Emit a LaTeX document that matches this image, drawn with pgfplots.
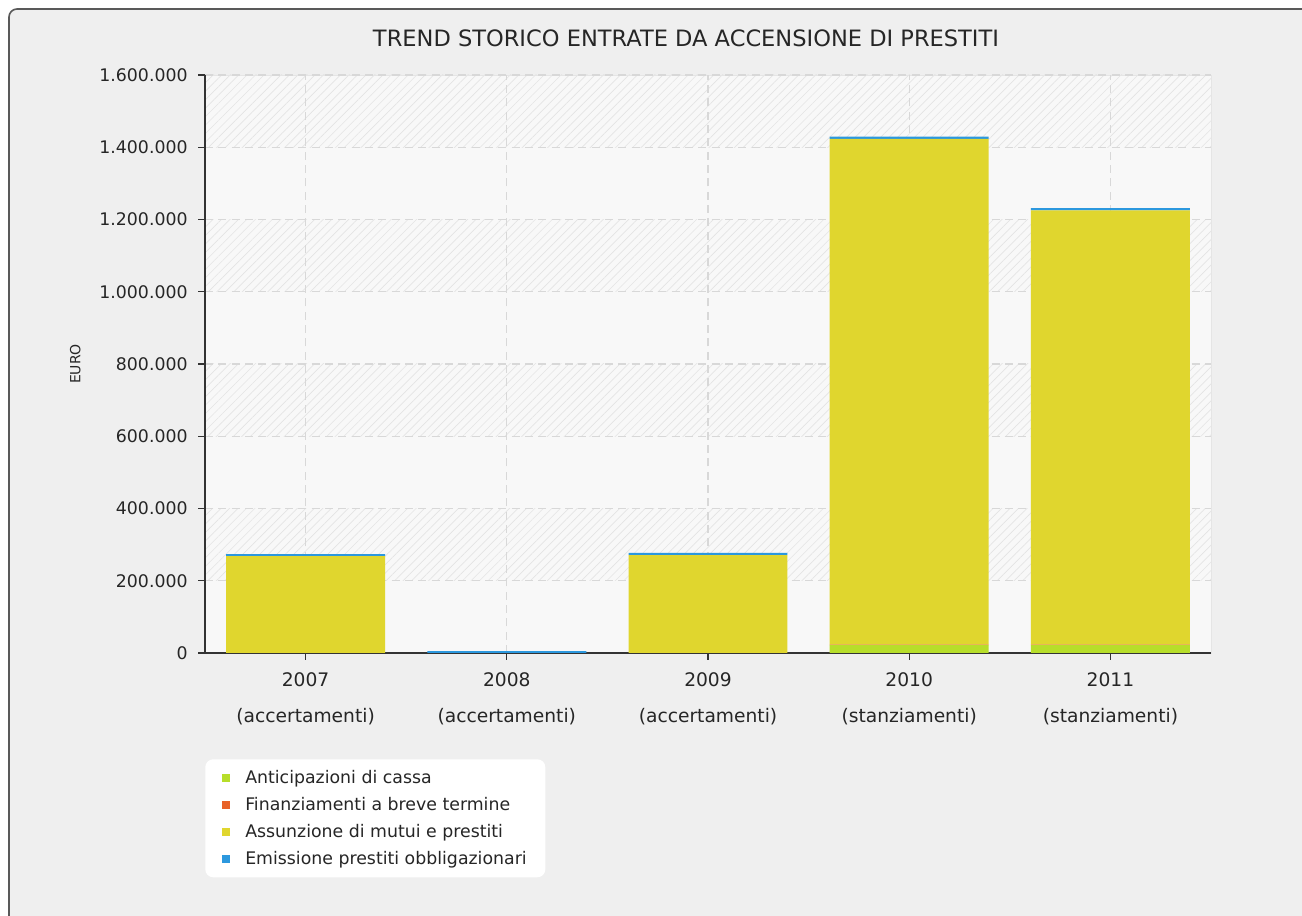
\documentclass[border=0pt]{standalone}
\usepackage{pgfplots}
\pgfplotsset{compat=1.18}
\usepackage{fontspec}
\setmainfont{DejaVu Sans}
\usetikzlibrary{patterns.meta,calc}
\definecolor{cgreen}{RGB}{183,222,42}
\definecolor{corange}{RGB}{232,98,40}
\definecolor{cyellow}{RGB}{224,214,46}
\definecolor{cblue}{RGB}{44,152,222}
\definecolor{bgouter}{RGB}{239,239,239}
\definecolor{plotbg}{RGB}{248,248,248}
\definecolor{hatchc}{RGB}{228,228,228}
\definecolor{gridc}{RGB}{216,216,216}
\begin{document}
\begin{tikzpicture}
\begin{scope}[x=0.75pt,y=0.75pt]
\path[use as bounding box] (0,0) rectangle (1302,916);
\clip (0,0) rectangle (1302,916);
\fill[white] (0,0) rectangle (1302,916);
\filldraw[fill=bgouter, draw=black!65, line width=1.2pt, rounded corners=6pt] (9,-20) rectangle (1330,907);
\node[font=\fontsize{16.9}{19}\selectfont, text=black!85] at (686,878) {TREND STORICO ENTRATE DA ACCENSIONE DI PRESTITI};
\end{scope}
\begin{axis}[
  at={(153.75pt,197.25pt)}, anchor=south west, scale only axis,
  width=754.5pt, height=433.5pt,
  xmin=-0.5, xmax=4.5, ymin=0, ymax=1600000,
  ybar stacked, bar width=0.79,
  axis background/.style={fill=plotbg, draw=black!10,
    path picture={
      \foreach \a in {1,3,5,7} {
        \pgfmathsetmacro{\lo}{\a/8}
        \pgfmathsetmacro{\hi}{(\a+1)/8}
        \fill[pattern={Lines[angle=45,distance=4.5pt,line width=0.5pt]}, pattern color=hatchc]
          ($(path picture bounding box.south west)!\lo!(path picture bounding box.north west)$)
          rectangle
          ($(path picture bounding box.south east)!\hi!(path picture bounding box.north east)$);
      }
    }},
  xtick={0,1,2,3,4},
  xticklabels={2007\\(accertamenti),2008\\(accertamenti),2009\\(accertamenti),2010\\(stanziamenti),2011\\(stanziamenti)},
  ytick={0,200000,400000,600000,800000,1000000,1200000,1400000,1600000},
  scaled y ticks=false,
  yticklabel style={font=\fontsize{13}{15}\selectfont, text=black!85, xshift=-4.5pt, /pgf/number format/fixed, /pgf/number format/1000 sep={.}, /pgf/number format/assume math mode=true},
  xticklabel style={align=center, font=\fontsize{14}{26.5}\selectfont, text=black!85, yshift=-6.5pt},
  grid=major,
  major grid style={gridc, dash pattern=on 6pt off 4pt, line width=0.8pt},
  axis x line*=bottom, axis y line*=left,
  axis line style={black!80, line width=1pt},
  tick style={black!80, line width=1pt},
  tick align=outside, major tick length=5pt,
  ylabel={EURO},
  ylabel style={at={(axis description cs:-0.129,0.5)}, anchor=center, font=\fontsize{10.5}{12}\selectfont, text=black!85},
  legend style={at={(0,-0.1834)}, anchor=north west, draw=none, fill=white, rounded corners=6pt,
    font=\fontsize{13}{15}\selectfont, row sep=5pt, inner xsep=9pt, inner ysep=6pt, text=black!85,
    nodes={inner xsep=5pt}},
  legend cell align=left,
  legend image code/.code={\fill[#1, sharp corners] (3.5pt,-3pt) rectangle (9.5pt,3pt); \path (0pt,0pt) (16pt,0pt);},
]
\addplot[fill=cgreen, draw=none] coordinates {(0,0) (1,0) (2,0) (3,22000) (4,22000)};
\addlegendentry{Anticipazioni di cassa}
\addplot[fill=corange, draw=none] coordinates {(0,0) (1,0) (2,0) (3,1500) (4,1500)};
\addlegendentry{Finanziamenti a breve termine}
\addplot[fill=cyellow, draw=none] coordinates {(0,268000) (1,0) (2,271000) (3,1400000) (4,1202000)};
\addlegendentry{Assunzione di mutui e prestiti}
\addplot[fill=cblue, draw=none] coordinates {(0,6000) (1,5000) (2,6000) (3,6000) (4,6000)};
\addlegendentry{Emissione prestiti obbligazionari}
\end{axis}
\end{tikzpicture}
\end{document}
